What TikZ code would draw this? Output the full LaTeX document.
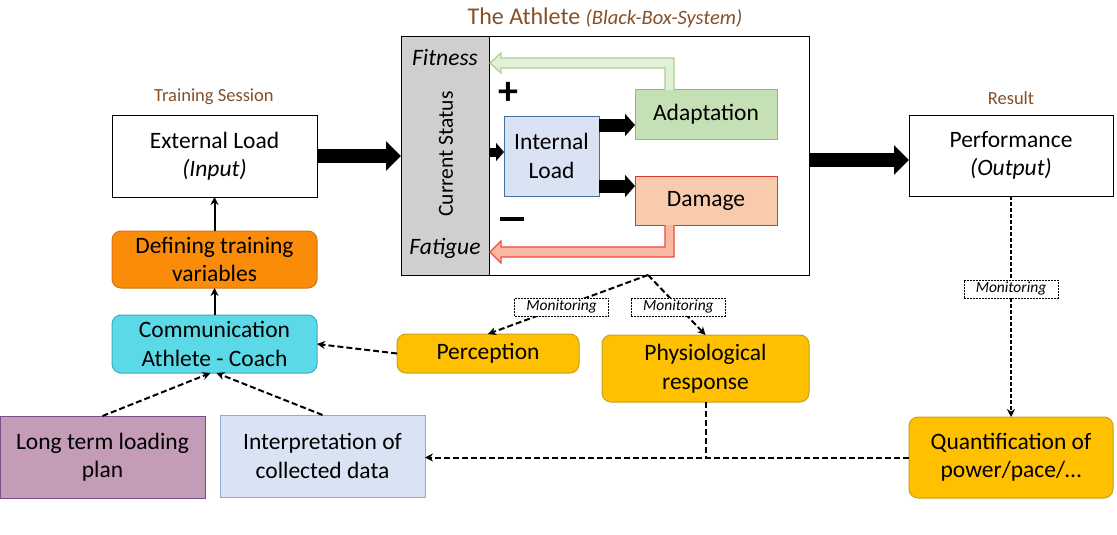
\documentclass[tikz,border=0pt]{standalone}
\usepackage{fontspec}
\setmainfont{Carlito}
\usetikzlibrary{arrows.meta,calc}
\definecolor{brownt}{HTML}{84502A}
\definecolor{grayc}{HTML}{D0CECE}
\definecolor{blfill}{HTML}{DAE3F3}
\definecolor{bldraw}{HTML}{41719C}
\definecolor{grfill}{HTML}{C5E0B4}
\definecolor{grdraw}{HTML}{8FBC6B}
\definecolor{dmfill}{HTML}{F8CBAD}
\definecolor{dmdraw}{HTML}{D83A2E}
\definecolor{orfill}{HTML}{FA8C0A}
\definecolor{ordraw}{HTML}{D97310}
\definecolor{cyfill}{HTML}{5CD9E7}
\definecolor{cydraw}{HTML}{3AAFC0}
\definecolor{pufill}{HTML}{C49CB7}
\definecolor{pudraw}{HTML}{7A4C8E}
\definecolor{ipdraw}{HTML}{8FAADC}
\definecolor{yefill}{HTML}{FFC000}
\definecolor{yedraw}{HTML}{C9A020}
\definecolor{fitdraw}{HTML}{A9D18E}
\definecolor{fitfill}{HTML}{E2F0D9}
\definecolor{fatdraw}{HTML}{EE4B3F}
\definecolor{fatfill}{HTML}{F8B8A2}
\tikzset{
  box/.style={draw, line width=1pt, inner sep=0pt, outer sep=0pt, anchor=north west, align=center,
    font=\fontsize{23.5}{28.5}\selectfont},
  rbox/.style={box, rounded corners=9pt},
  bigarrow/.style={line width=14pt, -{Triangle[length=15pt,width=29pt]}},
  smallarrow/.style={line width=13pt, -{Triangle[length=10pt,width=22pt]}},
  tinyarrow/.style={line width=9pt, -{Triangle[length=8pt,width=18pt]}},
  dashline/.style={line width=2pt, dash pattern=on 6pt off 3pt},
  dasharrow/.style={dashline, -{Stealth[length=8pt,width=8pt]}},
  solidarrow/.style={line width=2pt, -{Stealth[length=8pt,width=8pt]}},
  mlabel/.style={draw, line width=0.6pt, dash pattern=on 2pt off 1pt, fill=white, inner sep=1pt,
    minimum width=94pt, minimum height=18pt, font=\fontsize{15.5}{17}\selectfont\itshape},
  brown/.style={text=brownt, inner sep=0pt},
}
\begin{document}
\begin{tikzpicture}[x=1pt,y=-1pt]
\useasboundingbox[fill=white] (0,0) rectangle (1117,535);

% titles
\node[brown, font=\fontsize{24}{28}\selectfont] (title) at (605,18) {The Athlete {\fontsize{20.5}{24}\selectfont\itshape(Black-Box-System)}};
\node[brown, font=\fontsize{18.5}{22}\selectfont] (tst) at (214,97) {Training Session};
\node[brown, font=\fontsize{18.5}{22}\selectfont] (rst) at (1011,98) {Result};

% black box
\node[box, minimum width=408pt, minimum height=238pt] (bb) at (401,37) {};
\node[box, fill=grayc, minimum width=88pt, minimum height=238pt] (gc) at (401,37) {};
\node[font=\fontsize{21.5}{24}\selectfont, rotate=90, inner sep=0pt] (cs) at (446,154) {Current Status};
\node[font=\fontsize{23.5}{26}\selectfont\itshape, inner sep=0pt] (fit) at (445,58) {Fitness};
\node[font=\fontsize{23.5}{26}\selectfont\itshape, inner sep=0pt] (fat) at (445,248) {Fatigue};
\node[font=\fontsize{40}{40}\selectfont\bfseries, inner sep=0pt] (plus) at (508,93) {+};
\node[inner sep=0pt] (minus) at (512,219) {\rule{24pt}{4.5pt}};

\node[box, fill=blfill, draw=bldraw, minimum width=95pt, minimum height=80pt] (il) at (504,116) {Internal\\Load};
\node[box, fill=grfill, draw=grdraw, minimum width=142pt, minimum height=49pt] (ad) at (635,90) {Adaptation};
\node[box, fill=dmfill, draw=dmdraw, minimum width=142pt, minimum height=49pt] (dm) at (635,176) {Damage};

% feedback arrows
\draw[draw=fitdraw, fill=fitfill, line width=1.2pt, line join=miter]
  (665,90) -- (665,68) -- (501,68) -- (501,73) -- (490,63) -- (501,53) -- (501,58) -- (674,58) -- (674,90);
\draw[draw=fatdraw, fill=fatfill, line width=1.2pt, line join=miter]
  (665,225) -- (665,247) -- (501,247) -- (501,241) -- (490,252) -- (501,263) -- (501,257) -- (674,257) -- (674,225);

% internal arrows
\coordinate (ilin) at ([yshift=4pt]il.west);
\draw[tinyarrow] (gc.east |- ilin) -- (ilin);
\coordinate (adin) at ([yshift=-10.5pt]ad.west);
\draw[smallarrow] (il.east |- adin) -- (adin);
\coordinate (dmin) at ([yshift=14.5pt]dm.west);
\draw[smallarrow] (il.east |- dmin) -- (dmin);

% left column
\node[box, minimum width=205pt, minimum height=82pt] (ext) at (112,115) {External Load\\\textit{(Input)}};
\node[rbox, fill=orfill, draw=ordraw, minimum width=205pt, minimum height=57pt] (def) at (112,231) {Defining training\\variables};
\node[rbox, fill=cyfill, draw=cydraw, minimum width=205pt, minimum height=58pt] (com) at (112,315) {Communication\\Athlete - Coach};
\node[box, fill=pufill, draw=pudraw, minimum width=205pt, minimum height=82pt] (lt) at (0,416) {Long term loading\\plan};
\node[box, fill=blfill, draw=ipdraw, minimum width=205pt, minimum height=82pt] (ip) at (220,415) {Interpretation of\\collected data};

% middle
\node[rbox, fill=yefill, draw=yedraw, minimum width=182pt, minimum height=39pt] (pc) at (397,334) {Perception};
\node[rbox, fill=yefill, draw=yedraw, minimum width=207pt, minimum height=67pt] (pr) at (602,335) {Physiological\\response};

% right
\node[box, minimum width=204pt, minimum height=81pt] (pf) at (909,115) {Performance\\\textit{(Output)}};
\node[rbox, fill=yefill, draw=yedraw, minimum width=204pt, minimum height=81pt] (qt) at (909,417) {Quantification of\\power/pace/…};

% big arrows
\draw[bigarrow] (ext.east) -- (bb.west |- ext.east);
\coordinate (pfin) at ([yshift=-4.5pt]pf.west);
\draw[bigarrow] (bb.east |- pfin) -- (pfin);

% solid arrows
\draw[solidarrow] (def.north) -- (ext.south);
\draw[solidarrow] (com.north) -- (def.south);

% dashed arrows
\draw[dasharrow] (lt.north) -- ([xshift=-4pt]com.south);
\draw[dasharrow] (ip.north) -- ([xshift=2pt]com.south);
\draw[dasharrow] (pc.west) -- (com.east);
\coordinate (mon) at (648,275);
\draw[dasharrow] (mon) -- node[pos=0.54, mlabel] {Monitoring} (pc.north);
\draw[dasharrow] (mon) -- node[pos=0.53, mlabel] {Monitoring} (pr.north);
\draw[dasharrow, line width=1.6pt, dash pattern=on 4pt off 2pt] (pf.south) -- node[pos=0.42, mlabel] {Monitoring} (qt.north);
\coordinate (join) at (pr.south |- qt.west);
\draw[dasharrow] (qt.west) -- (qt.west -| ip.east);
\draw[dashline] (pr.south) -- (join);
\end{tikzpicture}
\end{document}
